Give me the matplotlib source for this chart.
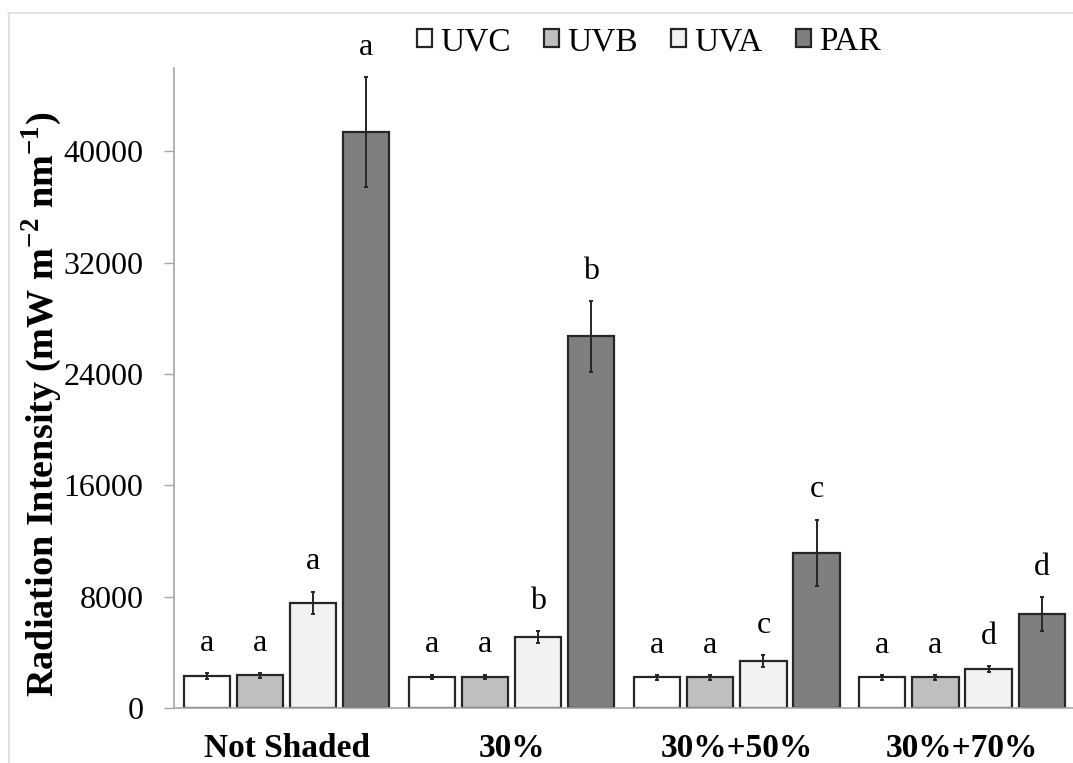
import numpy as np
import matplotlib.pyplot as plt
from matplotlib.lines import Line2D

plt.rcParams['font.family'] = ['Liberation Serif', 'DejaVu Serif']
plt.rcParams['mathtext.fontset'] = 'custom'
plt.rcParams['mathtext.rm'] = 'Liberation Serif'
plt.rcParams['mathtext.bf'] = 'Liberation Serif:bold'

# data
categories = ['Not Shaded', '30%', '30%+50%', '30%+70%']
series_names = ['UVC', 'UVB', 'UVA', 'PAR']
uvc = [2300, 2230, 2200, 2200]
uvb = [2340, 2230, 2200, 2200]
uva = [7560, 5110, 3380, 2800]
par = [41400, 26710, 11160, 6770]
uvc_err = [180, 170, 170, 170]
uvb_err = [170, 170, 170, 170]
uva_err = [800, 430, 430, 200]
par_err = [3950, 2550, 2380, 1220]
uvc_letters = ['a', 'a', 'a', 'a']
uvb_letters = ['a', 'a', 'a', 'a']
uva_letters = ['a', 'b', 'c', 'd']
par_letters = ['a', 'b', 'c', 'd']
y_ticks = [0, 8000, 16000, 24000, 32000, 40000]

colors = ['#ffffff', '#bfbfbf', '#f2f2f2', '#7f7f7f']
edge = '#262626'

values = [uvc, uvb, uva, par]
errors = [uvc_err, uvb_err, uva_err, par_err]
letters = [uvc_letters, uvb_letters, uva_letters, par_letters]

fig = plt.figure(figsize=(10.73, 7.63), dpi=100)
ax = fig.add_axes([174 / 1073, 55 / 763, 899 / 1073, 640 / 763])

x = np.arange(len(categories))
pitch = 0.236
width = 0.205
for k in range(4):
    pos = x + (k - 1.5) * pitch
    ax.bar(pos, values[k], width=width, color=colors[k], edgecolor=edge,
           linewidth=1.6, label=series_names[k], zorder=2)
    ax.errorbar(pos, values[k], yerr=errors[k], fmt='none', ecolor=edge,
                elinewidth=1.4, capsize=1.5, capthick=1.4, zorder=3)
    for p, v, e, t in zip(pos, values[k], errors[k], letters[k]):
        ax.annotate(t, (p, v + e), xytext=(0, 16), textcoords='offset points',
                    ha='center', va='baseline', fontsize=23, annotation_clip=False)

ax.set_xlim(-0.5, 3.493)
ax.set_ylim(0, 46000)
ax.set_yticks(y_ticks)
ax.set_yticklabels([str(t) for t in y_ticks], fontsize=23)
ax.set_xticks(x)
ax.set_xticklabels(categories, fontsize=24, fontweight='bold')
ax.tick_params(axis='x', length=0, pad=18)
ax.tick_params(axis='y', direction='out', length=7, width=1, color='#a6a6a6', pad=15)
for s in ['top', 'right']:
    ax.spines[s].set_visible(False)
ax.spines['left'].set_color('#a6a6a6')
ax.spines['bottom'].set_color('#a6a6a6')
ax.spines['left'].set_linewidth(1.2)
ax.spines['bottom'].set_linewidth(1.2)
ax.set_ylabel('Radiation Intensity (mW m$^{\\mathbf{-2}}$ nm$^{\\mathbf{-1}}$)',
              fontsize=27.5, fontweight='bold', va='center')
ax.yaxis.set_label_coords(-0.147, 0.475)

leg = ax.legend(loc='center', bbox_to_anchor=(649 / 1073, 721 / 763),
                bbox_transform=fig.transFigure, ncol=4, frameon=False,
                fontsize=24, handlelength=0.45, handleheight=0.45,
                handletextpad=0.25, columnspacing=1.0)

# light frame of the source figure
fig.add_artist(Line2D([8.5 / 1073, 8.5 / 1073], [0, 750 / 763], color='#dcdcdc',
                      lw=1.2, transform=fig.transFigure))
fig.add_artist(Line2D([8 / 1073, 1], [750 / 763, 750 / 763], color='#dcdcdc',
                      lw=1.2, transform=fig.transFigure))

fig.savefig('out.png', dpi=100)
